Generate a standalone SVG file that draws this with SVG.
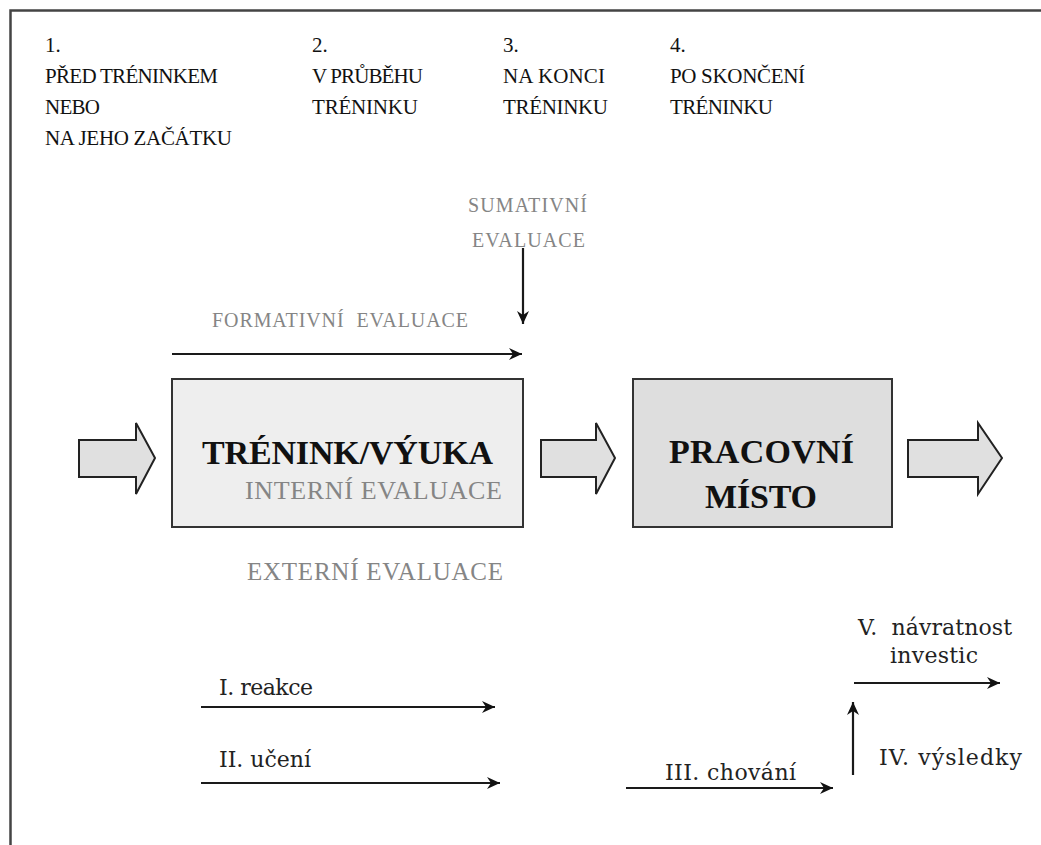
<svg xmlns="http://www.w3.org/2000/svg" width="1041" height="845" viewBox="0 0 1041 845">
<style>
.t{font-family:"Liberation Serif","Times New Roman",serif;font-size:21px;fill:#111}
.g{font-family:"Liberation Serif","Times New Roman",serif;fill:#858585}
.b{font-family:"Liberation Serif","Times New Roman",serif;font-weight:bold;font-size:34px;fill:#111}
.l{font-family:"DejaVu Serif","Liberation Serif",serif;font-size:22px;fill:#222}
.ln{stroke:#1a1a1a;stroke-width:2.2;fill:none}
.box{stroke:#333;stroke-width:2}
.blk{fill:#e0e0e0;stroke:#222;stroke-width:2;stroke-linejoin:miter}
</style>
<defs>
<marker id="ah" markerUnits="userSpaceOnUse" markerWidth="14" markerHeight="12" refX="13" refY="6" orient="auto">
<path d="M0,0 L13,6 L0,12 L4,6 z" fill="#111"/>
</marker>
</defs>
<rect width="1041" height="845" fill="#fff"/>
<g id="frame">
<path d="M10.5,845 L10.5,10.5 L1041,10.5" fill="none" stroke="#444" stroke-width="2.5"/>
</g>
<g id="phases">
<text class="t" x="45" y="52">1.</text>
<text class="t" x="45" y="83" textLength="173">PŘED TRÉNINKEM</text>
<text class="t" x="45" y="114" textLength="55">NEBO</text>
<text class="t" x="45" y="145" textLength="187">NA JEHO ZAČÁTKU</text>
<text class="t" x="312" y="52">2.</text>
<text class="t" x="312" y="83" textLength="111">V PRŮBĚHU</text>
<text class="t" x="312" y="114" textLength="106">TRÉNINKU</text>
<text class="t" x="503" y="52">3.</text>
<text class="t" x="503" y="83" textLength="102">NA KONCI</text>
<text class="t" x="503" y="114" textLength="105">TRÉNINKU</text>
<text class="t" x="670" y="52">4.</text>
<text class="t" x="670" y="83" textLength="135">PO SKONČENÍ</text>
<text class="t" x="670" y="114" textLength="103">TRÉNINKU</text>
</g>
<g id="evaluation-labels">
<text class="g" x="468" y="212" font-size="20" textLength="119">SUMATIVNÍ</text>
<text class="g" x="472" y="247" font-size="20" textLength="113">EVALUACE</text>
<text class="g" x="212" y="327" font-size="20" textLength="256" xml:space="preserve">FORMATIVNÍ  EVALUACE</text>
<text class="g" x="247" y="580" font-size="25" textLength="256">EXTERNÍ EVALUACE</text>
</g>
<g id="in-arrow">
<path class="blk" d="M79,440 L136,440 L136,423 L155,458 L136,494 L136,477 L79,477 Z"/>
</g>
<g id="training">
<rect class="box" x="172" y="379" width="351" height="148" fill="#eeeeee"/>
<text class="b" x="202" y="464" textLength="291">TRÉNINK/VÝUKA</text>
<text class="g" x="245" y="499" font-size="26" textLength="257">INTERNÍ EVALUACE</text>
</g>
<g id="mid-arrow">
<path class="blk" d="M541,440 L596,440 L596,423 L615,458 L596,494 L596,477 L541,477 Z"/>
</g>
<g id="workplace">
<rect class="box" x="633" y="379" width="259" height="148" fill="#dedede"/>
<text class="b" x="669" y="463" textLength="185">PRACOVNÍ</text>
<text class="b" x="705" y="508" textLength="112">MÍSTO</text>
</g>
<g id="out-arrow">
<path class="blk" d="M908,440 L978,440 L978,423 L1002,458 L978,494 L978,477 L908,477 Z"/>
</g>
<g id="connectors">
<line class="ln" x1="172" y1="354" x2="522" y2="354" marker-end="url(#ah)"/>
<line class="ln" x1="523" y1="248" x2="523" y2="324" marker-end="url(#ah)"/>
<line class="ln" x1="201" y1="707" x2="495" y2="707" marker-end="url(#ah)"/>
<line class="ln" x1="201" y1="783" x2="500" y2="783" marker-end="url(#ah)"/>
<line class="ln" x1="626" y1="788" x2="833" y2="788" marker-end="url(#ah)"/>
<line class="ln" x1="853" y1="775" x2="853" y2="702" marker-end="url(#ah)"/>
<line class="ln" x1="854" y1="683" x2="1000" y2="683" marker-end="url(#ah)"/>
</g>
<g id="levels">
<text class="l" x="219" y="695" textLength="94">I. reakce</text>
<text class="l" x="219" y="767" textLength="92">II. učení</text>
<text class="l" x="665" y="780" textLength="131">III. chování</text>
<text class="l" x="879" y="765" textLength="143">IV. výsledky</text>
<text class="l" x="858" y="635" textLength="154" xml:space="preserve">V.  návratnost</text>
<text class="l" x="890" y="663" textLength="88">investic</text>
</g>
</svg>
